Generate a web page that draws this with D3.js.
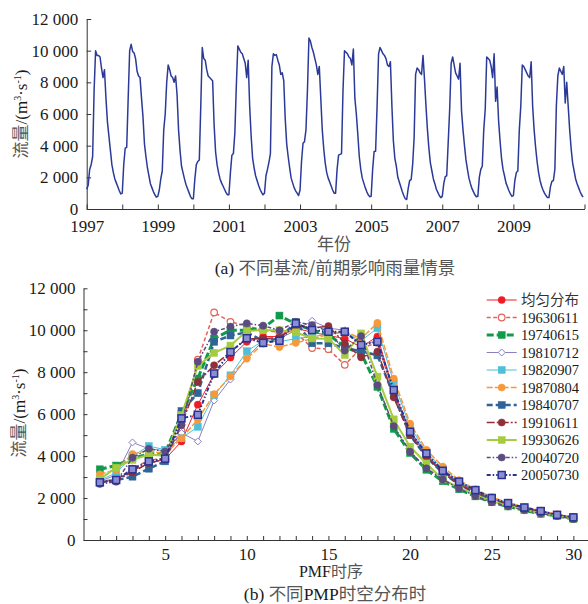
<!DOCTYPE html>
<html>
<head>
<meta charset="utf-8">
<script src="https://cdn.jsdelivr.net/npm/d3@7/dist/d3.min.js"></script>
<style>
  body { margin: 0; background: #fff; }
  svg text { font-family: "Liberation Serif", "DejaVu Serif", serif; fill: #1a1a1a; }
  .cjk { font-family: "Noto Sans CJK SC", sans-serif; fill: #555; }
  .axis path, .axis line { stroke: #333; stroke-width: 1; }
</style>
</head>
<body>
<div id="chart"></div>
<script>
// (a) daily-ish flow, 24 half-month samples per year
const years = [1997, 1998, 1999, 2000, 2001, 2002, 2003, 2004, 2005, 2006, 2007, 2008, 2009, 2010];
const q1997 = [1250,1500,2500,2800,3300,7500,10000,9700,9700,9600,8900,8300,8800,7000,5500,4600,3700,2800,2300,1900,1650,1400,1150,950];
const q1998 = [1000,2800,3850,3900,7000,10000,10400,9950,9850,9500,8700,8400,8300,7000,5800,4100,3300,2600,2100,1600,1350,1100,900,750];
const q1999 = [800,1200,1900,2400,5000,6000,8000,9100,8800,8400,8300,8000,8400,7200,5000,3700,2700,2300,1900,1550,1300,1050,800,650];
const q2000 = [650,1900,2800,3000,3100,6500,10200,9500,9400,8800,8400,8300,8200,8100,5300,3600,2800,2300,1900,1650,1450,1250,1050,900];
const q2001 = [900,2300,3400,3500,4800,7800,10300,10100,9900,9800,9500,9200,8300,9400,6500,4600,3200,2600,2100,1800,1500,1250,1050,900];
const q2002 = [1000,2100,2500,2950,3500,9000,9800,9700,9750,9400,9100,8500,8600,8100,5700,4100,3300,2600,1950,1650,1350,1150,1000,850];
const q2003 = [1200,3000,4150,4250,5000,7500,10800,10600,10200,9900,9500,9100,8500,9000,7000,5000,3800,2900,2300,1950,1700,1450,1200,1000];
const q2004 = [1000,2500,3400,3450,3500,7500,10000,9900,9800,9600,9500,9100,10100,7000,6000,4700,3300,2500,1950,1650,1350,1100,900,780];
const q2005 = [800,2500,3630,3650,6500,9800,10200,10000,9800,9700,9500,9100,9000,9300,6500,4300,3200,2700,2000,1700,1400,1100,850,650];
const q2006 = [600,1300,1800,1850,2800,4500,8500,8900,8800,8600,8500,9700,8200,6500,5000,3800,2900,2400,1900,1600,1250,1050,850,720];
const q2007 = [800,1600,2050,2100,4200,6300,9200,9600,9100,8600,8400,8200,9200,6200,5000,4000,3100,2500,1950,1600,1300,1100,900,770];
const q2008 = [800,2000,2500,2700,5000,6300,9600,9500,9400,9000,8300,9800,6800,7700,5600,4300,3200,2500,2100,1650,1400,1150,950,800];
const q2009 = [850,1800,2300,2400,5000,6500,9100,9000,8800,8600,8400,8300,9300,6500,5000,3900,3000,2300,1800,1450,1200,1000,850,720];
const q2010 = [720,1400,1750,1800,2500,6500,8400,8900,8700,8500,9000,6700,8000,6500,5000,3800,2900,2400,1900,1600,1350,1100,900,750];
const yearFlows = [q1997,q1998,q1999,q2000,q2001,q2002,q2003,q2004,q2005,q2006,q2007,q2008,q2009,q2010];

// (b) PMF hydrographs
const pmfSteps = d3.range(1, 31);
const sUniform  = [2750,2900,3300,3650,3850,4700,6450,7900,8700,9450,9700,9700,10100,9900,9750,9600,9200,9700,7100,5200,4100,3300,2750,2350,2000,1750,1550,1380,1200,1080];
const s19630611 = [2800,2900,3400,3800,3900,5200,8600,10850,10400,10200,10000,9900,9900,9150,9100,8350,9150,9400,7000,5100,4050,3250,2700,2300,1950,1720,1520,1350,1180,1060];
const s19740615 = [3370,3550,3900,4100,4150,6000,7700,9600,10000,10000,10100,10700,10300,10000,9800,9200,8900,7300,5300,4150,3350,2800,2420,2080,1800,1600,1420,1250,1150,1000];
const s19810712 = [2800,3100,4650,4350,4250,5100,4700,6650,7650,8700,9500,9600,10000,10450,10100,10000,9300,9500,7000,5100,4050,3250,2700,2300,1950,1720,1520,1350,1180,1060];
const s19820907 = [2850,3200,4000,4480,4300,4850,5400,6900,7850,9000,9500,9450,9600,9700,9800,9900,9500,10100,7500,5400,4200,3400,2800,2380,2020,1760,1550,1380,1200,1080];
const s19870804 = [3130,3350,4100,4260,4100,4850,5750,6950,7800,8650,9350,9200,9400,9600,9800,9950,9600,10350,7700,5550,4300,3500,2850,2420,2050,1780,1570,1400,1220,1100];
const s19840707 = [2750,2850,3020,3400,3750,6150,7000,9450,9750,9900,9500,9600,10400,9380,9380,9150,9000,8800,6900,5000,3950,3200,2650,2250,1920,1700,1500,1330,1170,1050];
const s19910611 = [2750,2850,3230,3670,3850,5500,7530,8330,8960,9600,9600,9650,10200,10100,10200,9380,8710,8980,6800,5000,3970,3200,2650,2250,1920,1700,1500,1330,1170,1050];
const s19930626 = [2900,3450,3820,4070,4020,5950,8300,8920,9270,9970,10000,10000,9900,9610,9600,8820,9850,7790,5750,4450,3650,2890,2500,2150,1850,1630,1440,1280,1150,1020];
const s20040720 = [2670,2780,3925,4350,4220,5480,8500,9930,10170,10330,10220,9990,10400,10250,9950,9030,9720,7390,5430,4210,3420,2890,2450,2100,1800,1600,1420,1260,1140,1000];
const s20050730 = [2750,2860,3370,3750,3880,5800,5970,7940,8960,9620,9400,9500,10330,10010,9930,9930,9300,9450,7150,5160,4130,3300,2780,2380,2000,1760,1550,1380,1200,1080];
const seriesNames = ["均匀分布","19630611","19740615","19810712","19820907","19870804","19840707","19910611","19930626","20040720","20050730"];
const seriesValues = [sUniform,s19630611,s19740615,s19810712,s19820907,s19870804,s19840707,s19910611,s19930626,s20040720,s20050730];

const styles = [
  {color:"#ee1c25", w:1,   dash:null,              mark:"circle", fill:true},
  {color:"#e0645a", w:1.5, dash:"4,2.5",           mark:"circle", fill:false},
  {color:"#119a4a", w:3,   dash:"7,3",             mark:"square", fill:true},
  {color:"#8b7fc2", w:1,   dash:null,              mark:"diamond", fill:false},
  {color:"#4dbfd8", w:1,   dash:null,              mark:"square", fill:true},
  {color:"#f7993b", w:1.5, dash:"6,2",             mark:"circle", fill:true},
  {color:"#2f6496", w:2.5, dash:"6,3",             mark:"square", fill:true},
  {color:"#8f2f38", w:1.5, dash:"8,2,2,2",         mark:"circle", fill:true},
  {color:"#a5cc3f", w:2,   dash:null,              mark:"square", fill:true},
  {color:"#5b4b80", w:1.5, dash:"4,2,1.5,2",       mark:"circle", fill:true},
  {color:"#2b3192", w:2,   dash:"4,2,1.5,2,1.5,2", mark:"square", fill:"#8a8fd0"}
];

const W = 588, H = 604;
const svg = d3.select("#chart").append("svg").attr("width", W).attr("height", H);
const spaced = d => d === 0 ? "0" : d3.format(",")(d).replace(",", " ");

function yTitle(x, y) {
  const t = svg.append("text").attr("transform", `translate(${x},${y}) rotate(-90)`)
    .attr("text-anchor", "middle").style("font-size", "17px");
  t.append("tspan").attr("class", "cjk").text("流量");
  t.append("tspan").text("/(m");
  t.append("tspan").attr("dy", -6).style("font-size", "10px").text("3");
  t.append("tspan").attr("dy", 6).text("·s");
  t.append("tspan").attr("dy", -6).style("font-size", "10px").text("-1");
  t.append("tspan").attr("dy", 6).text(")");
}

// ---------- (a) ----------
const xA = d3.scaleLinear().domain([1997, 2011]).range([86.7, 584.5]);
const yA = d3.scaleLinear().domain([0, 12000]).range([209, 19]);

const flowPts = [];
years.forEach((yr, k) => yearFlows[k].forEach((v, i) => flowPts.push({t: yr + i / 24, v})));

svg.append("g").attr("class", "axis").attr("transform", "translate(0,209)")
  .call(d3.axisBottom(xA).tickValues(d3.range(1997, 2012)).tickSizeInner(-4.5).tickSizeOuter(0).tickPadding(10.5)
    .tickFormat(d => (d % 2 === 1 && d < 2011) ? d : ""))
  .selectAll("text").style("font-size", "17px");
svg.append("g").attr("class", "axis").attr("transform", "translate(86.7,0)")
  .call(d3.axisLeft(yA).tickValues(d3.range(0, 12001, 2000)).tickSizeInner(-4.5).tickSizeOuter(0).tickPadding(8.5)
    .tickFormat(spaced))
  .selectAll("text").style("font-size", "17px");

svg.append("path").datum(flowPts)
  .attr("fill", "none").attr("stroke", "#2b3a98").attr("stroke-width", 1.5).attr("stroke-linejoin", "round")
  .attr("d", d3.line().x(d => xA(d.t)).y(d => yA(d.v)));

svg.append("text").attr("class", "cjk").attr("x", 334).attr("y", 250).attr("text-anchor", "middle")
  .style("font-size", "17px").text("年份");
yTitle(27, 114);
const capA = svg.append("text").attr("x", 335).attr("y", 274).attr("text-anchor", "middle").style("font-size", "17.5px");
capA.append("tspan").text("(a) ");
capA.append("tspan").attr("class", "cjk").text("不同基流/前期影响雨量情景");

// ---------- (b) ----------
const xB = d3.scaleLinear().domain([0, 31]).range([83.5, 589.7]);
const yB = d3.scaleLinear().domain([0, 12000]).range([540, 288.3]);

svg.append("g").attr("class", "axis").attr("transform", "translate(0,540)")
  .call(d3.axisBottom(xB).tickValues(pmfSteps).tickSizeInner(-4).tickSizeOuter(0).tickPadding(8)
    .tickFormat(d => d % 5 === 0 ? d : ""))
  .selectAll("text").style("font-size", "17px");
svg.append("g").attr("class", "axis").attr("transform", "translate(83.5,0)")
  .call(d3.axisLeft(yB).tickValues(d3.range(0, 12001, 1000)).tickSizeInner(-4).tickSizeOuter(0).tickPadding(8)
    .tickFormat(d => d % 2000 === 0 ? spaced(d) : ""))
  .selectAll("text").style("font-size", "17px");

function marker(g, st, x, y) {
  const fill = st.fill === true ? st.color : (st.fill ? st.fill : "#fff");
  if (st.mark === "circle") {
    g.append("circle").attr("cx", x).attr("cy", y).attr("r", st.fill ? 3.6 : 3.3)
      .attr("fill", fill).attr("stroke", st.color).attr("stroke-width", st.fill ? 0.5 : 1.2);
  } else if (st.mark === "square") {
    g.append("rect").attr("x", x - 3.5).attr("y", y - 3.5).attr("width", 7).attr("height", 7)
      .attr("fill", fill).attr("stroke", st.color).attr("stroke-width", st.fill === true ? 0.5 : 1.5);
  } else {
    g.append("path").attr("d", `M${x},${y - 3.5}L${x + 3.5},${y}L${x},${y + 3.5}L${x - 3.5},${y}Z`)
      .attr("fill", "#fff").attr("stroke", st.color).attr("stroke-width", 1);
  }
}

const lineB = d3.line().x((d, i) => xB(pmfSteps[i])).y(d => yB(d));
seriesValues.forEach((vals, k) => {
  const st = styles[k];
  const g = svg.append("g");
  g.append("path").datum(vals).attr("fill", "none").attr("stroke", st.color)
    .attr("stroke-width", st.w).attr("stroke-dasharray", st.dash).attr("d", lineB);
  vals.forEach((v, i) => marker(g, st, xB(pmfSteps[i]), yB(v)));
});

// legend
seriesNames.forEach((name, k) => {
  const st = styles[k];
  const y = 300 + k * 17.5;
  const g = svg.append("g");
  g.append("line").attr("x1", 486.7).attr("x2", 516.7).attr("y1", y).attr("y2", y)
    .attr("stroke", st.color).attr("stroke-width", st.w).attr("stroke-dasharray", st.dash);
  marker(g, st, 501.7, y);
  g.append("text").attr("x", 521).attr("y", y + 5).attr("class", k === 0 ? "cjk" : null)
    .style("font-size", "14.5px").style("fill", k === 0 ? "#333" : null).text(name);
});

const xtB = svg.append("text").attr("x", 331).attr("y", 577).attr("text-anchor", "middle").style("font-size", "16px");
xtB.append("tspan").text("PMF");
xtB.append("tspan").attr("class", "cjk").text("时序");
yTitle(25, 413);
const capB = svg.append("text").attr("x", 335).attr("y", 600).attr("text-anchor", "middle").style("font-size", "17.5px");
capB.append("tspan").text("(b) ");
capB.append("tspan").attr("class", "cjk").text("不同");
capB.append("tspan").text("PMP");
capB.append("tspan").attr("class", "cjk").text("时空分布时");
</script>
</body>
</html>
